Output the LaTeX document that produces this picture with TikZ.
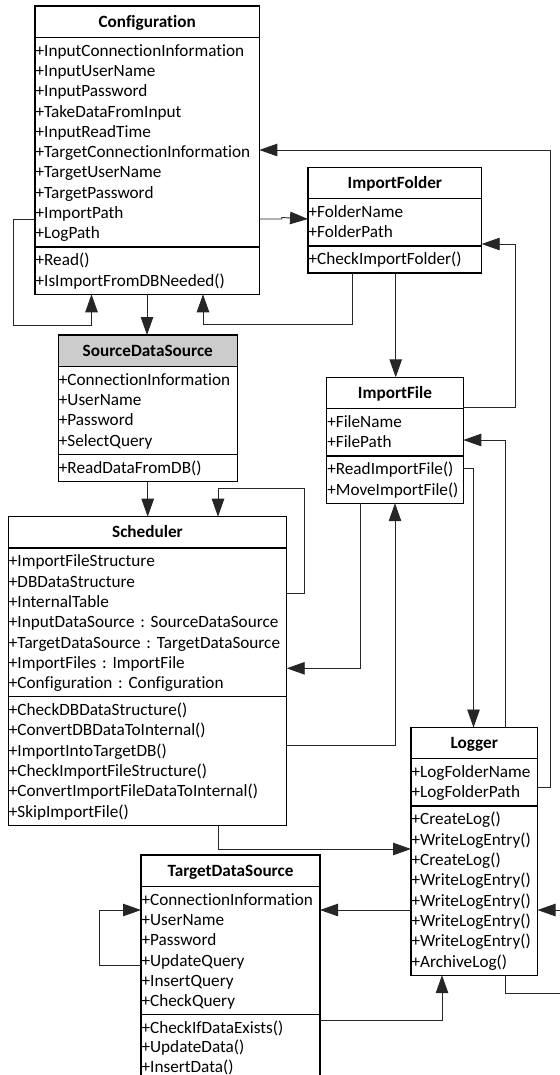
\documentclass[tikz,border=0pt]{standalone}
\usepackage{fontspec}
\setmainfont{Carlito}[Ligatures=NoCommon]
\usetikzlibrary{arrows.meta,positioning,shapes.multipart}
\tikzset{
  umlclass/.style={rectangle split, rectangle split parts=3, draw=black, line width=1.3pt, inner xsep=0.6pt, inner ysep=2.7pt, outer sep=0pt, align=left, anchor=north west, font=\frenchspacing\fontsize{17.2}{20.3}\selectfont},
  conn/.style={line width=0.9pt, draw=black!85},
  carr/.style={conn, -{Triangle[length=18pt,width=12.5pt]}}
}
\newcommand\rowstrut{\rule[-4.8pt]{0pt}{20.3pt}}
\newcommand\hdstrut{\rule[-6.8pt]{0pt}{24.6pt}}
\newcommand\clname[1]{\hbox to \hsize{\hfil\hdstrut\textbf{#1}\hfil}}
\newcommand\rows[1]{\rowstrut#1\rowstrut}

\begin{document}
\begin{tikzpicture}[x=1pt,y=1pt]
\useasboundingbox (0,0) rectangle (559,-1075);
% classes
\node[umlclass, text width=223.1pt] (conf) at (35,-6) {\clname{Configuration}
  \nodepart{two}\rows{+InputConnectionInformation\\+InputUserName\\+InputPassword\\+TakeDataFromInput\\+InputReadTime\\+TargetConnectionInformation\\+TargetUserName\\+TargetPassword\\+ImportPath\\+LogPath}
  \nodepart{three}\rows{+Read()\\+IsImportFromDBNeeded()}};
\node[umlclass, text width=172.5pt] (ifold) at (308,-167.3) {\clname{ImportFolder}
  \nodepart{two}\rows{+FolderName\\+FolderPath}
  \nodepart{three}\rows{+CheckImportFolder()}};
\node[umlclass, text width=177.8pt, rectangle split part fill={gray!40,white,white}] (src) at (58.3,-335) {\clname{SourceDataSource}
  \nodepart{two}\rows{+ConnectionInformation\\+UserName\\+Password\\+SelectQuery}
  \nodepart{three}\rows{+ReadDataFromDB()}};
\node[umlclass, text width=135.4pt] (ifile) at (326.7,-377.3) {\clname{ImportFile}
  \nodepart{two}\rows{+FileName\\+FilePath}
  \nodepart{three}\rows{+ReadImportFile()\\+MoveImportFile()}};
\node[umlclass, text width=277.2pt] (sched) at (8.3,-516.7) {\clname{Scheduler}
  \nodepart{two}\rows{+ImportFileStructure\\+DBDataStructure\\+InternalTable\\+InputDataSource : SourceDataSource\\+TargetDataSource : TargetDataSource\\+ImportFiles : ImportFile\\+Configuration : Configuration}
  \nodepart{three}\rows{+CheckDBDataStructure()\\+ConvertDBDataToInternal()\\+ImportIntoTargetDB()\\+CheckImportFileStructure()\\+ConvertImportFileDataToInternal()\\+SkipImportFile()}};
\node[umlclass, text width=125.3pt] (logger) at (411,-727.5) {\clname{Logger}
  \nodepart{two}\rows{+LogFolderName\\+LogFolderPath}
  \nodepart{three}\rows{+CreateLog()\\+WriteLogEntry()\\+CreateLog()\\+WriteLogEntry()\\+WriteLogEntry()\\+WriteLogEntry()\\+WriteLogEntry()\\+ArchiveLog()}};
\node[umlclass, text width=177.8pt] (tds) at (141,-855) {\clname{TargetDataSource}
  \nodepart{two}\rows{+ConnectionInformation\\+UserName\\+Password\\+UpdateQuery\\+InsertQuery\\+CheckQuery}
  \nodepart{three}\rows{+CheckIfDataExists()\\[-1pt]+UpdateData()\\[-1pt]+InsertData()}};
\coordinate (offR) at (565,-910);
\coordinate (offB) at (565,-993.5);
% connectors
\draw[carr] ([yshift=-213pt]conf.north west) -| (13,-325) -| ([xshift=56.5pt]conf.south west);
\draw[carr] ([xshift=112pt]conf.south west) -- ([xshift=88.7pt]src.north west);
\draw[carr] ([xshift=44pt]ifold.south west) |- (203,-324.3) -- ([xshift=168pt]conf.south west);
\draw[carr] ([yshift=-213pt]conf.north east) -- ++(22.4,0) -- ++(0,1.5) -- ([yshift=-51.7pt]ifold.north west);
\draw[carr] ([yshift=-60.2pt]logger.north east) -| (550,-150) -- ([yshift=-144pt]conf.north east);
\draw[carr] ([xshift=87.7pt]ifold.south west) -- ([xshift=69pt]ifile.north west);
\draw[carr] ([yshift=-30pt]ifile.north east) -| (515,-244) -- ([yshift=-76.7pt]ifold.north east);
\draw[carr] ([xshift=94.7pt]logger.north west) |- ([yshift=-62.7pt]ifile.north east);
\draw[carr] ([yshift=-91pt]ifile.north east) -| ([xshift=62.5pt]logger.north west);
\draw[carr] ([xshift=89.4pt]src.south west) -- ([xshift=139.4pt]sched.north west);
\draw[carr] ([yshift=-76.3pt]sched.north east) -| (304,-488.5) -| ([xshift=209.7pt]sched.north west);
\draw[carr] ([xshift=33.3pt]ifile.south west) |- ([yshift=-151.6pt]sched.north east);
\draw[carr] ([yshift=-228.3pt]sched.north east) -| ([xshift=68.3pt]ifile.south west);
\draw[carr] ([xshift=209.7pt]sched.south west) |- ([yshift=-121.5pt]logger.north west);
\draw[carr] ([yshift=-183pt]logger.north west) -- ++(-24,0) -- ++(0,0.5) -- ([yshift=-55pt]tds.north east);
\draw[carr] (offR) -- ([yshift=-182.5pt]logger.north east);
\draw[conn] ([xshift=94.7pt]logger.south west) |- (offB);
\draw[carr] ([yshift=-165.5pt]tds.north east) -| ([xshift=31pt]logger.south west);
\draw[carr] ([yshift=-110pt]tds.north west) -| (99.3,-910) -- ([yshift=-55pt]tds.north west);
\end{tikzpicture}
\end{document}
